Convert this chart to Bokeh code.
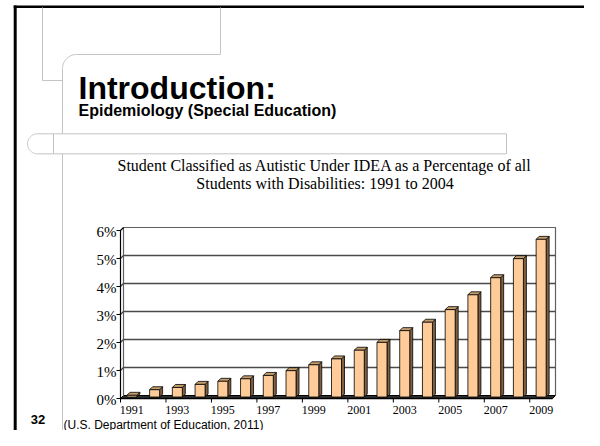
import numpy as np
from bokeh.plotting import figure
from bokeh.models import Range1d
from bokeh.core.properties import value
from bokeh.embed import file_html
from bokeh.resources import INLINE

# ---------------- data ----------------
years = list(range(1991, 2010))
pct = [0.06, 0.26, 0.34, 0.45, 0.56, 0.65, 0.77, 0.94, 1.15, 1.36,
       1.67, 1.95, 2.37, 2.67, 3.12, 3.65, 4.26, 4.94, 5.63]
y_ticks = [0, 1, 2, 3, 4, 5, 6]
y_tick_labels = ["0%", "1%", "2%", "3%", "4%", "5%", "6%"]
x_tick_years = years[::2]
x_tick_labels = [str(y) for y in x_tick_years]

heading = "Introduction:"
subheading = "Epidemiology (Special Education)"
chart_title = ["Student Classified as Autistic Under IDEA as a Percentage of all",
               "Students with Disabilities: 1991 to 2004"]
slide_number = "32"
source_note = "(U.S. Department of Education, 2011)"

# ---------------- figure ----------------
W, H = 584, 430
p = figure(width=W, height=H, x_range=Range1d(0, W), y_range=Range1d(H, 0),
           output_backend="svg", toolbar_location=None, min_border=0,
           x_axis_type=None, y_axis_type=None)
p.grid.visible = False
p.outline_line_color = None
p.background_fill_color = "white"
p.border_fill_color = "white"

SANS = value("Liberation Sans")
SERIF = value("Liberation Serif")
GRAY = "#C4C4C4"

# ---- slide decorations (screen coordinates) ----
p.line([14.7, 14.7], [5, 440], line_color="black", line_width=3)
p.line([13.2, 600], [6.2, 6.2], line_color="black", line_width=2.4)

p.line([42, 42, 62], [7, 80, 80], line_color=GRAY, line_width=1)
t = np.linspace(0, np.pi / 2, 20)
cx_ = list(76 - 14 * np.cos(t))
cy_ = list(68 - 14 * np.sin(t))
p.line([62] + cx_ + [220, 220], [450] + cy_ + [54, 7], line_color=GRAY, line_width=1)

t2 = np.linspace(0, np.pi, 30)
bx = list(37 - 10 * np.sin(t2)) + [506, 506]
by = list(143.3 + 10 * np.cos(t2)) + [133.3, 153.3]
p.patch(bx, by, fill_color="white", line_color=GRAY, line_width=1)
p.line([53, 53], [133.3, 153.3], line_color=GRAY, line_width=1)

p.text(x=[78], y=[87], text=[heading], text_font=SANS, text_font_style="bold",
       text_font_size="32px", text_baseline="alphabetic", text_align="left", text_color="black")
p.text(x=[78], y=[110], text=[subheading], text_font=SANS, text_font_style="bold",
       text_font_size="16px", text_baseline="alphabetic", text_align="left", text_color="black")
p.text(x=[324.5, 324.5], y=[165, 183], text=chart_title, text_font=SERIF,
       text_font_size="16px", text_baseline="middle", text_align="center", text_color="black")
p.text(x=[37.5], y=[419], text=[slide_number], text_font=SANS, text_font_style="bold",
       text_font_size="13px", text_baseline="middle", text_align="center", text_color="black")
p.text(x=[63], y=[424], text=[source_note], text_font=SANS,
       text_font_size="12px", text_baseline="alphabetic", text_align="left", text_color="black")

# ---- chart (data coordinates through extra ranges) ----
X0, Y0, YTOP = 120, 398, 230     # front-plane axis origin and top (screen px)
PX = 432 / 19.0                  # px per category
PY = (Y0 - YTOP) / 6.0           # px per 1 %
p.extra_x_ranges = {"cx": Range1d(-X0 / PX, (W - X0) / PX)}
p.extra_y_ranges = {"cy": Range1d(-(H - Y0) / PY, Y0 / PY)}
R = dict(x_range_name="cx", y_range_name="cy")

n = len(years)
ddx, ddy = 3 / PX, 3 / PY
ymax = y_ticks[-1]

# floor
p.patch([0, n, n + ddx, ddx], [0, 0, ddy, ddy], fill_color="#303030",
        line_color="black", line_width=1, **R)
# back wall frame
p.line([ddx, ddx, n + ddx, n + ddx], [ddy, ymax + ddy, ymax + ddy, ddy],
       line_color="#606060", line_width=1.2, **R)
# gridlines on back wall and left wall
for k in y_ticks[1:-1]:
    p.line([0, ddx, n + ddx], [k, k + ddy, k + ddy], line_color="#4A4A4A", line_width=1.3, **R)
# left axis
p.line([0, 0, ddx], [0, ymax, ymax + ddy], line_color="black", line_width=1.2, **R)
p.segment(x0=[0] * len(y_ticks), y0=y_ticks, x1=[-4 / PX] * len(y_ticks), y1=y_ticks,
          line_color="black", line_width=1, **R)
# bottom axis line and ticks
p.line([0, n], [0, 0], line_color="black", line_width=1.5, **R)
bounds = list(range(0, n + 1, 2))
p.segment(x0=bounds, y0=[0] * len(bounds), x1=bounds, y1=[-4 / PY] * len(bounds),
          line_color="black", line_width=1, **R)

# bars (3-D look)
hw = 5 / PX
centers = np.arange(n) + 0.5
base = ddy / 2
L = centers - hw
Rr = centers + hw
T = np.array(pct) + base
p.patches([[r, r + ddx, r + ddx, r] for r in Rr],
          [[base, base + ddy, tt + ddy, tt] for tt in T],
          fill_color="#806040", line_color="black", line_width=0.8, **R)
p.patches([[l, r, r + ddx, l + ddx] for l, r in zip(L, Rr)],
          [[tt, tt, tt + ddy, tt + ddy] for tt in T],
          fill_color="#C39C6C", line_color="black", line_width=0.8, **R)
p.quad(left=L, right=Rr, bottom=[base] * n, top=T, fill_color="#FFCC99",
       line_color="black", line_width=0.8, **R)

# tick labels
p.text(x=[0] * len(y_ticks), y=y_ticks, text=y_tick_labels, x_offset=-4, y_offset=1,
       text_font=SERIF, text_font_size="15px", text_align="right",
       text_baseline="middle", text_color="black", **R)
xl = [years.index(y) + 0.5 for y in x_tick_years]
p.text(x=xl, y=[0] * len(xl), text=x_tick_labels, y_offset=11,
       text_font=SERIF, text_font_size="12px", text_align="center",
       text_baseline="middle", text_color="black", **R)

open("out.html", "w").write(file_html(p, INLINE))
